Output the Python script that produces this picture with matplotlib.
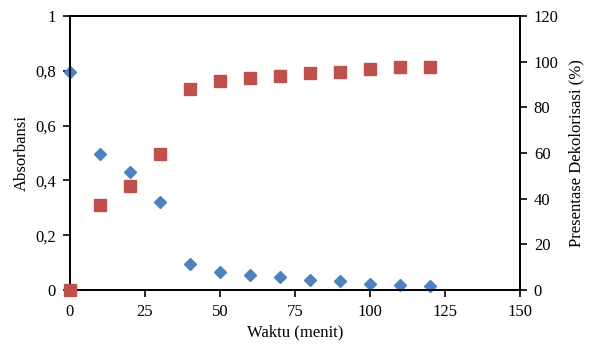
import matplotlib.pyplot as plt
from matplotlib.ticker import FuncFormatter

plt.rcParams['font.family'] = ['Liberation Serif', 'DejaVu Serif']

waktu = [0, 10, 20, 30, 40, 50, 60, 70, 80, 90, 100, 110, 120]
absorbansi = [0.796, 0.496, 0.43, 0.321, 0.095, 0.067, 0.055, 0.047, 0.036, 0.033, 0.023, 0.019, 0.016]
dekolorisasi = [0, 37.2, 45.7, 59.4, 87.9, 91.4, 93.0, 93.7, 95.2, 95.6, 96.8, 97.5, 97.8]

fig = plt.figure(figsize=(5.9, 3.45), dpi=100)
ax = fig.add_axes([0.1186, 0.1594, 0.7627, 0.7942])
ax2 = ax.twinx()

ax.plot(waktu, absorbansi, linestyle='none', marker='D', markersize=6,
        color='#4F81BD', markeredgecolor='#4F81BD', clip_on=False, zorder=3)
ax2.plot(waktu, dekolorisasi, linestyle='none', marker='s', markersize=8,
         color='#C0504D', markeredgecolor='#C0504D', clip_on=False, zorder=3)

ax.set_xlim(0, 150)
ax.set_ylim(0, 1)
ax2.set_ylim(0, 120)
ax.set_xticks([0, 25, 50, 75, 100, 125, 150])
ax.set_yticks([0, 0.2, 0.4, 0.6, 0.8, 1])
ax2.set_yticks([0, 20, 40, 60, 80, 100, 120])
ax.yaxis.set_major_formatter(FuncFormatter(lambda v, p: ('%g' % v).replace('.', ',')))

for a in (ax, ax2):
    a.tick_params(direction='out', length=5, width=1.2, pad=5, labelsize=12, colors='black')
    for s in a.spines.values():
        s.set_linewidth(1.3)

ax.set_xlabel('Waktu (menit)', fontsize=12, labelpad=3)
ax.set_ylabel('Absorbansi', fontsize=12, labelpad=4)
ax2.set_ylabel('Presentase Dekolorisasi (%)', fontsize=12, labelpad=7)

fig.savefig('out.png', dpi=100)
